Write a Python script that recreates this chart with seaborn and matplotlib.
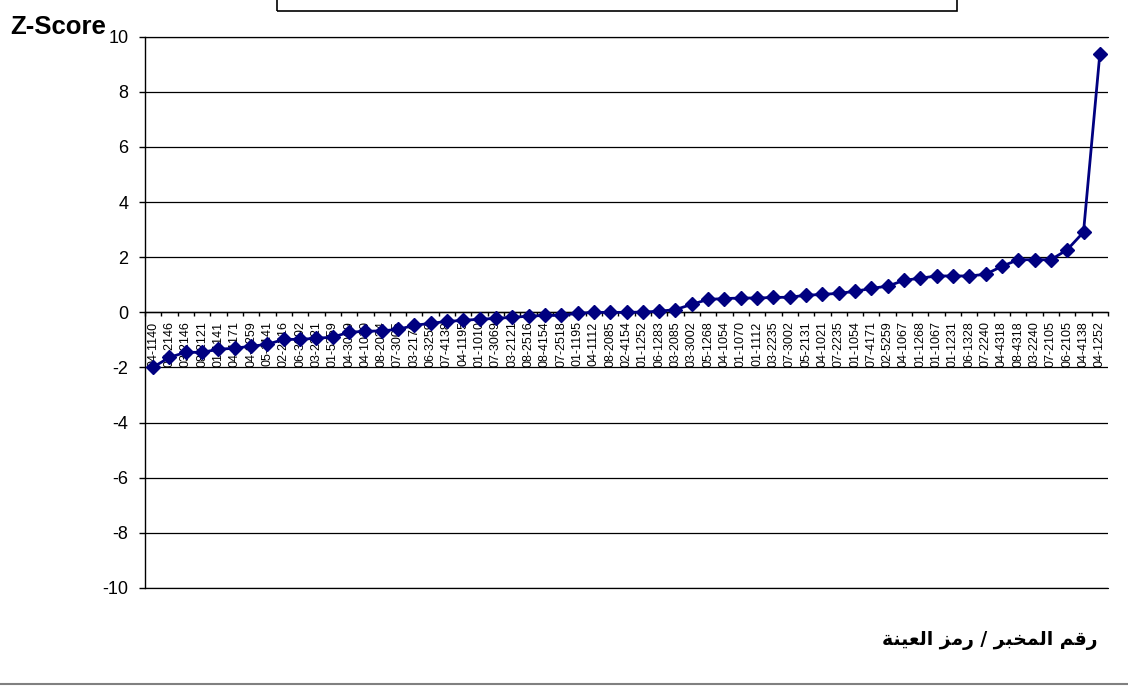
import numpy as np
import pandas as pd
import matplotlib
matplotlib.use("Agg")
import matplotlib.pyplot as plt
from matplotlib.patches import Rectangle
from matplotlib.lines import Line2D
from matplotlib.ticker import MultipleLocator, FixedLocator, FixedFormatter
import seaborn as sns

labels = ["04-1140", "07-2146", "03-2146", "08-2121", "01-1141", "04-4171", "04-3259",
          "05-1141", "02-2216", "06-3002", "03-2221", "01-5259", "04-3069", "04-1010",
          "08-2024", "07-3005", "03-2170", "06-3259", "07-4138", "04-1195", "01-1010",
          "07-3069", "03-2121", "08-2516", "08-4154", "07-2518", "01-1195", "04-1112",
          "08-2085", "02-4154", "01-1252", "06-1283", "03-2085", "03-3002", "05-1268",
          "04-1054", "01-1070", "01-1112", "03-2235", "07-3002", "05-2131", "04-1021",
          "07-2235", "01-1054", "07-4171", "02-5259", "04-1067", "01-1268", "01-1067",
          "01-1231", "06-1328", "07-2240", "04-4318", "08-4318", "03-2240", "07-2105",
          "06-2105", "04-4138", "04-1252"]

zscores = [-1.99, -1.63, -1.45, -1.45, -1.34, -1.30, -1.23, -1.16, -0.98, -0.98, -0.94, -0.90,
           -0.72, -0.69, -0.67, -0.62, -0.47, -0.40, -0.33, -0.29, -0.25, -0.22, -0.18, -0.14,
           -0.11, -0.10, -0.04, 0.00, 0.00, 0.00, 0.01, 0.04, 0.10, 0.29, 0.47, 0.50,
           0.52, 0.52, 0.54, 0.55, 0.62, 0.65, 0.69, 0.76, 0.87, 0.95, 1.16, 1.24,
           1.32, 1.32, 1.32, 1.38, 1.67, 1.91, 1.91, 1.91, 2.27, 2.91, 9.38]

y_ticks = [-10, -8, -6, -4, -2, 0, 2, 4, 6, 8, 10]
y_title = "Z-Score"
x_title = "رقم المخبر / رمز العينة"


def shape_arabic(text):
    # contextual forms (isolated, final, initial, medial); None => non-joining to the left
    forms = {
        "\u0627": ("\uFE8D", "\uFE8E", None, None),
        "\u0628": ("\uFE8F", "\uFE90", "\uFE91", "\uFE92"),
        "\u0629": ("\uFE93", "\uFE94", None, None),
        "\u062E": ("\uFEA5", "\uFEA6", "\uFEA7", "\uFEA8"),
        "\u0631": ("\uFEAD", "\uFEAE", None, None),
        "\u0632": ("\uFEAF", "\uFEB0", None, None),
        "\u0639": ("\uFEC9", "\uFECA", "\uFECB", "\uFECC"),
        "\u0642": ("\uFED5", "\uFED6", "\uFED7", "\uFED8"),
        "\u0644": ("\uFEDD", "\uFEDE", "\uFEDF", "\uFEE0"),
        "\u0645": ("\uFEE1", "\uFEE2", "\uFEE3", "\uFEE4"),
        "\u0646": ("\uFEE5", "\uFEE6", "\uFEE7", "\uFEE8"),
        "\u064A": ("\uFEF1", "\uFEF2", "\uFEF3", "\uFEF4"),
    }
    out = []
    n = len(text)
    for i, ch in enumerate(text):
        if ch not in forms:
            out.append(ch)
            continue
        prev = text[i - 1] if i > 0 else None
        nxt = text[i + 1] if i < n - 1 else None
        jp = prev in forms and forms[prev][2] is not None
        jn = forms[ch][2] is not None and nxt in forms
        iso, fin, ini, med = forms[ch]
        if jp and jn:
            out.append(med)
        elif jp:
            out.append(fin)
        elif jn:
            out.append(ini)
        else:
            out.append(iso)
    return "".join(out)[::-1]


sns.set_theme(style="white")
plt.rcParams["font.family"] = ["Liberation Sans", "DejaVu Sans"]

fig = plt.figure(figsize=(11.28, 6.86), dpi=100)
W, H = 1128, 686
ax = fig.add_axes([145 / W, 1 - 588 / H, (1108 - 145) / W, (588 - 36.7) / H])

df = pd.DataFrame({"pos": np.arange(len(labels)), "z": zscores})
sns.lineplot(data=df, x="pos", y="z", ax=ax, color="#000080", linewidth=2,
             marker="D", markersize=7, markeredgecolor="#000080",
             markerfacecolor="#000080", markeredgewidth=1, zorder=5)

ax.set_xlim(-0.5, len(labels) - 0.5)
ax.set_ylim(-10, 10)
ax.set_xlabel("")
ax.set_ylabel("")

ax.yaxis.set_major_locator(FixedLocator(y_ticks))
ax.yaxis.set_major_formatter(FixedFormatter([str(t) for t in y_ticks]))
ax.grid(axis="y", color="black", linewidth=0.9)
ax.grid(axis="x", visible=False)
for yl in (-10, 10):
    ax.axhline(yl, color="black", linewidth=0.9, clip_on=False, zorder=1)

ax.xaxis.set_major_locator(FixedLocator(np.arange(len(labels))))
ax.xaxis.set_major_formatter(FixedFormatter(labels))
ax.xaxis.set_minor_locator(MultipleLocator(1, offset=0.5))
ax.tick_params(axis="x", which="major", length=0, pad=6.5, colors="black",
               labelsize=9, labelrotation=90)
ax.tick_params(axis="x", which="minor", bottom=True, direction="out", length=3, width=1, color="black")
ax.tick_params(axis="y", which="major", left=True, direction="out", length=4, width=1,
               pad=8, colors="black", labelsize=13)

ax.spines["bottom"].set_position(("data", 0))
ax.spines["bottom"].set_color("black")
ax.spines["bottom"].set_linewidth(1)
ax.spines["left"].set_color("black")
ax.spines["left"].set_linewidth(1)
ax.spines["top"].set_visible(False)
ax.spines["right"].set_visible(False)
ax.set_facecolor("white")

fig.text(10 / W, 1 - 34 / H, y_title, fontsize=18.5, fontweight="bold",
         ha="left", va="baseline", color="black")
fig.text(1097 / W, 1 - 645 / H, shape_arabic(x_title), fontsize=13.5, fontweight="bold",
         family="DejaVu Sans", ha="right", va="baseline", color="black")

# cut-off legend frame at top and chart border at bottom
fig.patches.append(Rectangle((277 / W, 1 - 10.5 / H), (957 - 277) / W, 30 / H,
                             transform=fig.transFigure, fill=False, edgecolor="black",
                             linewidth=1.2))
fig.lines.append(Line2D([0, 1], [1 - 683.5 / H, 1 - 683.5 / H], transform=fig.transFigure,
                        color="#808080", linewidth=1.5))

fig.savefig("out.png", dpi=100, facecolor="white")
